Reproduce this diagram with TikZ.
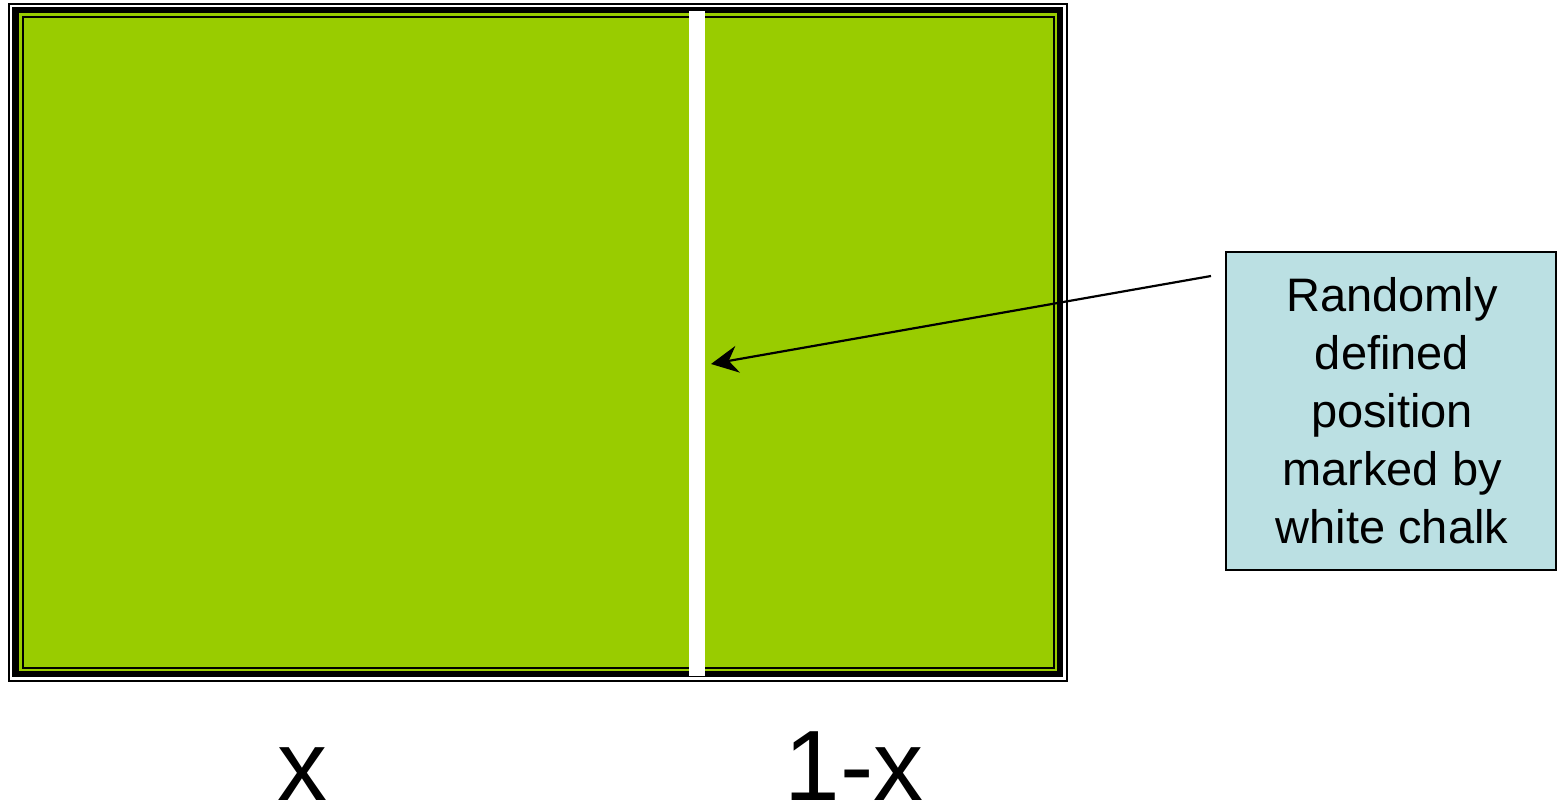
\documentclass[tikz,border=0pt]{standalone}
\usepackage{fontspec}
\newfontfamily\arialfont{Liberation Sans}
\usetikzlibrary{arrows.meta}
\definecolor{chalkgreen}{RGB}{153,204,0}
\definecolor{notefill}{RGB}{187,224,227}
\tikzset{
  notebox/.style={draw=black, line width=1.2pt, fill=notefill, minimum width=330pt, minimum height=318pt, inner sep=0pt},
  notetext/.style={align=center, font=\arialfont\fontsize{47}{58}\selectfont, inner sep=0pt},
  biglabel/.style={font=\arialfont\fontsize{100}{100}\selectfont, inner sep=0pt, anchor=base},
  pointer/.style={draw=black, line width=2.2pt, -{Stealth[length=27pt,width=27pt,inset=9pt]}}
}
\begin{document}
\begin{tikzpicture}[x=1pt,y=-1pt]
\useasboundingbox (0,0) rectangle (1557,808);
% frame
\draw[line width=2pt] (9,4) rectangle (1067,681);
\draw[line width=6.5pt] (15.5,10) rectangle (1060,674);
\fill[chalkgreen] (18.5,13) rectangle (1057,671);
\draw[line width=2pt, fill=chalkgreen] (23,17) rectangle (1053.5,668);
% chalk line
\fill[white] (689,11) rectangle (705,676);
% note
\node[notebox] (box) at (1391,411) {};
\node[notetext] (note) at (1392,411) {Randomly\\defined\\position\\marked by\\white chalk};
\coordinate (start) at (1211,276);
\coordinate (tip) at (711,364);
\draw[pointer] (start) -- (tip);
% labels
\node[biglabel] (lx) at (302,800) {x};
\node[biglabel] (l1x) at (854,800) {1-x};
\end{tikzpicture}
\end{document}
